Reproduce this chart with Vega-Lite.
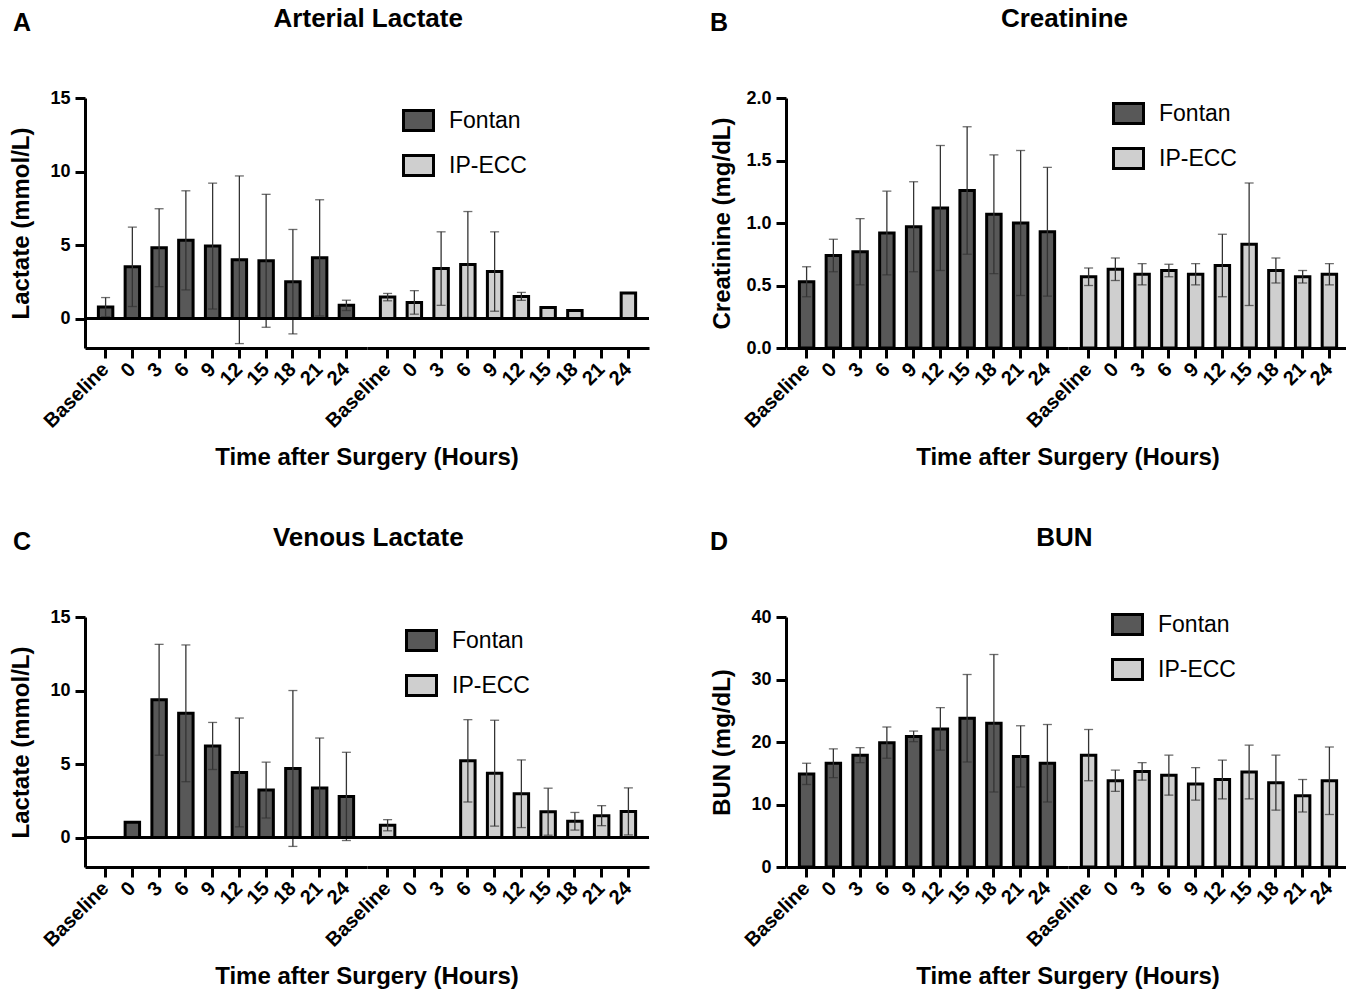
{
  "$schema": "https://vega.github.io/schema/vega-lite/v6.json",
  "padding": {"top": 6, "left": 9, "right": 1, "bottom": 2},
  "background": "white",
  "config": {
    "font": "Liberation Sans",
    "view": {"stroke": null},
    "title": {"font": "Liberation Sans", "fontSize": 26, "fontWeight": "bold", "color": "black"},
    "axis": {"domainColor": "black", "domainWidth": 3, "tickColor": "black", "tickWidth": 3, "tickSize": 10, "labelFont": "Liberation Sans", "labelFontWeight": "bold", "labelFontSize": 20, "labelColor": "black", "titleFont": "Liberation Sans", "titleFontWeight": "bold", "titleFontSize": 24, "titleColor": "black", "grid": false},
    "axisX": {"labelAngle": -45, "labelAlign": "right", "labelBaseline": "middle", "labelPadding": 8},
    "axisY": {"labelFontSize": 18, "labelPadding": 5, "titlePadding": 16},
    "legend": {"labelFont": "Liberation Sans", "labelFontSize": 23, "labelColor": "black", "symbolType": "M-1.5,-1H1.5V1H-1.5Z", "symbolSize": 400, "symbolStrokeColor": "black", "symbolStrokeWidth": 3, "symbolOpacity": 1, "labelOffset": 19, "rowPadding": 12},
    "header": {"labels": false, "titleOrient": "bottom", "titleFont": "Liberation Sans", "titleFontSize": 24, "titleFontWeight": "bold", "titleColor": "black", "titlePadding": 4}
  },
  "datasets": {
    "arterial": [
      {"group": "Fontan", "time": "Baseline", "mean": 0.78, "sd": 0.65},
      {"group": "Fontan", "time": "0", "mean": 3.52, "sd": 2.7},
      {"group": "Fontan", "time": "3", "mean": 4.82, "sd": 2.65},
      {"group": "Fontan", "time": "6", "mean": 5.32, "sd": 3.37},
      {"group": "Fontan", "time": "9", "mean": 4.93, "sd": 4.28},
      {"group": "Fontan", "time": "12", "mean": 4.0, "sd": 5.7},
      {"group": "Fontan", "time": "15", "mean": 3.93, "sd": 4.52},
      {"group": "Fontan", "time": "18", "mean": 2.51, "sd": 3.55},
      {"group": "Fontan", "time": "21", "mean": 4.13, "sd": 3.95},
      {"group": "Fontan", "time": "24", "mean": 0.9, "sd": 0.35},
      {"group": "IP-ECC", "time": "Baseline", "mean": 1.46, "sd": 0.25},
      {"group": "IP-ECC", "time": "0", "mean": 1.1, "sd": 0.8},
      {"group": "IP-ECC", "time": "3", "mean": 3.4, "sd": 2.5},
      {"group": "IP-ECC", "time": "6", "mean": 3.68, "sd": 3.6},
      {"group": "IP-ECC", "time": "9", "mean": 3.2, "sd": 2.7},
      {"group": "IP-ECC", "time": "12", "mean": 1.51, "sd": 0.27},
      {"group": "IP-ECC", "time": "15", "mean": 0.75, "sd": null},
      {"group": "IP-ECC", "time": "18", "mean": 0.55, "sd": null},
      {"group": "IP-ECC", "time": "24", "mean": 1.74, "sd": null}
    ],
    "creatinine": [
      {"group": "Fontan", "time": "Baseline", "mean": 0.53, "sd": 0.12},
      {"group": "Fontan", "time": "0", "mean": 0.74, "sd": 0.13},
      {"group": "Fontan", "time": "3", "mean": 0.77, "sd": 0.265},
      {"group": "Fontan", "time": "6", "mean": 0.92, "sd": 0.335},
      {"group": "Fontan", "time": "9", "mean": 0.97, "sd": 0.36},
      {"group": "Fontan", "time": "12", "mean": 1.12, "sd": 0.5},
      {"group": "Fontan", "time": "15", "mean": 1.26, "sd": 0.51},
      {"group": "Fontan", "time": "18", "mean": 1.07, "sd": 0.475},
      {"group": "Fontan", "time": "21", "mean": 1.0, "sd": 0.58},
      {"group": "Fontan", "time": "24", "mean": 0.93, "sd": 0.515},
      {"group": "IP-ECC", "time": "Baseline", "mean": 0.57, "sd": 0.07},
      {"group": "IP-ECC", "time": "0", "mean": 0.63, "sd": 0.09},
      {"group": "IP-ECC", "time": "3", "mean": 0.59, "sd": 0.085},
      {"group": "IP-ECC", "time": "6", "mean": 0.62, "sd": 0.05},
      {"group": "IP-ECC", "time": "9", "mean": 0.59, "sd": 0.085},
      {"group": "IP-ECC", "time": "12", "mean": 0.66, "sd": 0.25},
      {"group": "IP-ECC", "time": "15", "mean": 0.83, "sd": 0.49},
      {"group": "IP-ECC", "time": "18", "mean": 0.62, "sd": 0.1},
      {"group": "IP-ECC", "time": "21", "mean": 0.57, "sd": 0.05},
      {"group": "IP-ECC", "time": "24", "mean": 0.59, "sd": 0.085}
    ],
    "venous": [
      {"group": "Fontan", "time": "0", "mean": 1.04, "sd": null},
      {"group": "Fontan", "time": "3", "mean": 9.37, "sd": 3.77},
      {"group": "Fontan", "time": "6", "mean": 8.45, "sd": 4.65},
      {"group": "Fontan", "time": "9", "mean": 6.23, "sd": 1.6},
      {"group": "Fontan", "time": "12", "mean": 4.43, "sd": 3.7},
      {"group": "Fontan", "time": "15", "mean": 3.23, "sd": 1.9},
      {"group": "Fontan", "time": "18", "mean": 4.7, "sd": 5.3},
      {"group": "Fontan", "time": "21", "mean": 3.37, "sd": 3.4},
      {"group": "Fontan", "time": "24", "mean": 2.8, "sd": 3.0},
      {"group": "IP-ECC", "time": "Baseline", "mean": 0.84, "sd": 0.38},
      {"group": "IP-ECC", "time": "6", "mean": 5.22, "sd": 2.8},
      {"group": "IP-ECC", "time": "9", "mean": 4.38, "sd": 3.6},
      {"group": "IP-ECC", "time": "12", "mean": 2.98, "sd": 2.3},
      {"group": "IP-ECC", "time": "15", "mean": 1.76, "sd": 1.6},
      {"group": "IP-ECC", "time": "18", "mean": 1.11, "sd": 0.6},
      {"group": "IP-ECC", "time": "21", "mean": 1.49, "sd": 0.68},
      {"group": "IP-ECC", "time": "24", "mean": 1.78, "sd": 1.6}
    ],
    "bun": [
      {"group": "Fontan", "time": "Baseline", "mean": 14.9, "sd": 1.7},
      {"group": "Fontan", "time": "0", "mean": 16.6, "sd": 2.3},
      {"group": "Fontan", "time": "3", "mean": 17.9, "sd": 1.2},
      {"group": "Fontan", "time": "6", "mean": 19.9, "sd": 2.5},
      {"group": "Fontan", "time": "9", "mean": 20.9, "sd": 0.85},
      {"group": "Fontan", "time": "12", "mean": 22.1, "sd": 3.4},
      {"group": "Fontan", "time": "15", "mean": 23.8, "sd": 7.0},
      {"group": "Fontan", "time": "18", "mean": 23.0, "sd": 11.0},
      {"group": "Fontan", "time": "21", "mean": 17.7, "sd": 4.9},
      {"group": "Fontan", "time": "24", "mean": 16.6, "sd": 6.2},
      {"group": "IP-ECC", "time": "Baseline", "mean": 17.9, "sd": 4.1},
      {"group": "IP-ECC", "time": "0", "mean": 13.8, "sd": 1.7},
      {"group": "IP-ECC", "time": "3", "mean": 15.3, "sd": 1.4},
      {"group": "IP-ECC", "time": "6", "mean": 14.7, "sd": 3.2},
      {"group": "IP-ECC", "time": "9", "mean": 13.3, "sd": 2.6},
      {"group": "IP-ECC", "time": "12", "mean": 14.0, "sd": 3.1},
      {"group": "IP-ECC", "time": "15", "mean": 15.2, "sd": 4.3},
      {"group": "IP-ECC", "time": "18", "mean": 13.5, "sd": 4.4},
      {"group": "IP-ECC", "time": "21", "mean": 11.4, "sd": 2.6},
      {"group": "IP-ECC", "time": "24", "mean": 13.8, "sd": 5.4}
    ]
  },
  "spacing": 55,
  "resolve": {"scale": {"color": "independent"}, "legend": {"color": "independent"}},
  "vconcat": [
    {
      "spacing": 58,
      "resolve": {"scale": {"color": "independent"}, "legend": {"color": "independent"}},
      "hconcat": [
        {
          "title": {"text": "A", "anchor": "start", "frame": "bounds", "fontSize": 25, "offset": 0, "dy": 30, "dx": 3},
          "vconcat": [
            {
              "data": {"name": "arterial"},
              "title": {"text": "Arterial Lactate", "anchor": "middle", "frame": "bounds", "offset": 57, "dx": 38},
              "facet": {"column": {"field": "group", "type": "nominal", "sort": ["Fontan", "IP-ECC"], "title": "Time after Surgery (Hours)"}},
              "spacing": 0,
              "bounds": "flush",
              "spec": {
                "width": 282,
                "height": 250,
                "layer": [
                  {
                    "mark": {"type": "bar", "stroke": "black", "strokeWidth": 3, "opacity": 1},
                    "encoding": {
                      "x": {"field": "time", "type": "ordinal", "title": null, "scale": {"domain": ["Baseline", "0", "3", "6", "9", "12", "15", "18", "21", "24"], "paddingInner": 0.46, "paddingOuter": 0.5}},
                      "y": {"field": "mean", "type": "quantitative", "title": "Lactate (mmol/L)", "scale": {"domain": [-2, 15], "nice": false, "zero": false}, "axis": {"values": [0, 5, 10, 15]}},
                      "color": {"field": "group", "type": "nominal", "scale": {"domain": ["Fontan", "IP-ECC"], "range": ["#585858", "#cfcfcf"]}, "legend": {"title": null, "orient": "none", "legendX": 322, "legendY": 11}}
                    }
                  },
                  {
                    "transform": [{"filter": "isValid(datum.sd)"}],
                    "mark": {"type": "errorbar", "color": "#333333", "thickness": 1.3, "ticks": {"size": 9, "thickness": 1.3}},
                    "encoding": {
                      "x": {"field": "time", "type": "ordinal", "title": null},
                      "y": {"field": "mean", "type": "quantitative", "title": "Lactate (mmol/L)"},
                      "yError": {"field": "sd"}
                    }
                  },
                  {
                    "mark": {"type": "rule", "color": "black", "strokeWidth": 3},
                    "encoding": {"y": {"datum": 0}}
                  }
                ]
              }
            }
          ]
        },
        {
          "title": {"text": "B", "anchor": "start", "frame": "bounds", "fontSize": 25, "offset": 0, "dy": 30, "dx": -1},
          "vconcat": [
            {
              "data": {"name": "creatinine"},
              "title": {"text": "Creatinine", "anchor": "middle", "frame": "bounds", "offset": 57, "dx": 34},
              "facet": {"column": {"field": "group", "type": "nominal", "sort": ["Fontan", "IP-ECC"], "title": "Time after Surgery (Hours)"}},
              "spacing": 0,
              "bounds": "flush",
              "spec": {
                "width": 282,
                "height": 250,
                "layer": [
                  {
                    "mark": {"type": "bar", "stroke": "black", "strokeWidth": 3, "opacity": 1},
                    "encoding": {
                      "x": {"field": "time", "type": "ordinal", "title": null, "scale": {"domain": ["Baseline", "0", "3", "6", "9", "12", "15", "18", "21", "24"], "paddingInner": 0.46, "paddingOuter": 0.5}},
                      "y": {"field": "mean", "type": "quantitative", "title": "Creatinine (mg/dL)", "scale": {"domain": [0, 2], "nice": false}, "axis": {"values": [0, 0.5, 1, 1.5, 2], "format": ".1f", "titlePadding": 11}},
                      "color": {"field": "group", "type": "nominal", "scale": {"domain": ["Fontan", "IP-ECC"], "range": ["#585858", "#cfcfcf"]}, "legend": {"title": null, "orient": "none", "legendX": 331, "legendY": 4}}
                    }
                  },
                  {
                    "transform": [{"filter": "isValid(datum.sd)"}],
                    "mark": {"type": "errorbar", "color": "#333333", "thickness": 1.3, "ticks": {"size": 9, "thickness": 1.3}},
                    "encoding": {
                      "x": {"field": "time", "type": "ordinal", "title": null},
                      "y": {"field": "mean", "type": "quantitative", "title": "Creatinine (mg/dL)"},
                      "yError": {"field": "sd"}
                    }
                  }
                ]
              }
            }
          ]
        }
      ]
    },
    {
      "spacing": 58,
      "resolve": {"scale": {"color": "independent"}, "legend": {"color": "independent"}},
      "hconcat": [
        {
          "title": {"text": "C", "anchor": "start", "frame": "bounds", "fontSize": 25, "offset": 0, "dy": 30, "dx": 3},
          "vconcat": [
            {
              "data": {"name": "venous"},
              "title": {"text": "Venous Lactate", "anchor": "middle", "frame": "bounds", "offset": 57, "dx": 38},
              "facet": {"column": {"field": "group", "type": "nominal", "sort": ["Fontan", "IP-ECC"], "title": "Time after Surgery (Hours)"}},
              "spacing": 0,
              "bounds": "flush",
              "spec": {
                "width": 282,
                "height": 250,
                "layer": [
                  {
                    "mark": {"type": "bar", "stroke": "black", "strokeWidth": 3, "opacity": 1},
                    "encoding": {
                      "x": {"field": "time", "type": "ordinal", "title": null, "scale": {"domain": ["Baseline", "0", "3", "6", "9", "12", "15", "18", "21", "24"], "paddingInner": 0.46, "paddingOuter": 0.5}},
                      "y": {"field": "mean", "type": "quantitative", "title": "Lactate (mmol/L)", "scale": {"domain": [-2, 15], "nice": false, "zero": false}, "axis": {"values": [0, 5, 10, 15]}},
                      "color": {"field": "group", "type": "nominal", "scale": {"domain": ["Fontan", "IP-ECC"], "range": ["#585858", "#cfcfcf"]}, "legend": {"title": null, "orient": "none", "legendX": 325, "legendY": 12}}
                    }
                  },
                  {
                    "transform": [{"filter": "isValid(datum.sd)"}],
                    "mark": {"type": "errorbar", "color": "#333333", "thickness": 1.3, "ticks": {"size": 9, "thickness": 1.3}},
                    "encoding": {
                      "x": {"field": "time", "type": "ordinal", "title": null},
                      "y": {"field": "mean", "type": "quantitative", "title": "Lactate (mmol/L)"},
                      "yError": {"field": "sd"}
                    }
                  },
                  {
                    "mark": {"type": "rule", "color": "black", "strokeWidth": 3},
                    "encoding": {"y": {"datum": 0}}
                  }
                ]
              }
            }
          ]
        },
        {
          "title": {"text": "D", "anchor": "start", "frame": "bounds", "fontSize": 25, "offset": 0, "dy": 30, "dx": -1},
          "vconcat": [
            {
              "data": {"name": "bun"},
              "title": {"text": "BUN", "anchor": "middle", "frame": "bounds", "offset": 57, "dx": 34},
              "facet": {"column": {"field": "group", "type": "nominal", "sort": ["Fontan", "IP-ECC"], "title": "Time after Surgery (Hours)"}},
              "spacing": 0,
              "bounds": "flush",
              "spec": {
                "width": 282,
                "height": 250,
                "layer": [
                  {
                    "mark": {"type": "bar", "stroke": "black", "strokeWidth": 3, "opacity": 1},
                    "encoding": {
                      "x": {"field": "time", "type": "ordinal", "title": null, "scale": {"domain": ["Baseline", "0", "3", "6", "9", "12", "15", "18", "21", "24"], "paddingInner": 0.46, "paddingOuter": 0.5}},
                      "y": {"field": "mean", "type": "quantitative", "title": "BUN (mg/dL)", "scale": {"domain": [0, 40], "nice": false}, "axis": {"values": [0, 10, 20, 30, 40]}},
                      "color": {"field": "group", "type": "nominal", "scale": {"domain": ["Fontan", "IP-ECC"], "range": ["#585858", "#cfcfcf"]}, "legend": {"title": null, "orient": "none", "legendX": 330, "legendY": -4}}
                    }
                  },
                  {
                    "transform": [{"filter": "isValid(datum.sd)"}],
                    "mark": {"type": "errorbar", "color": "#333333", "thickness": 1.3, "ticks": {"size": 9, "thickness": 1.3}},
                    "encoding": {
                      "x": {"field": "time", "type": "ordinal", "title": null},
                      "y": {"field": "mean", "type": "quantitative", "title": "BUN (mg/dL)"},
                      "yError": {"field": "sd"}
                    }
                  }
                ]
              }
            }
          ]
        }
      ]
    }
  ]
}
